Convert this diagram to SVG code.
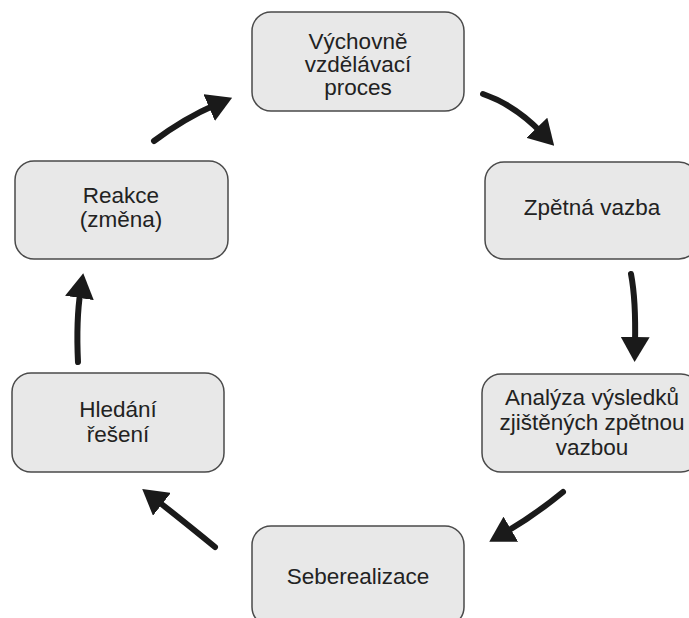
<svg xmlns="http://www.w3.org/2000/svg" width="689" height="618" viewBox="0 0 689 618">
<defs>
<style>
.box{fill:#e8e8e8;stroke:#4a4a4a;stroke-width:1.5}
.lbl{font-family:"Liberation Sans",Arial,sans-serif;font-size:22.5px;fill:#222;text-anchor:middle}
.arr{fill:none;stroke:#1a1a1a;stroke-width:6;stroke-linecap:round;marker-end:url(#head)}
</style>
<marker id="head" viewBox="0 0 25 29" refX="7" refY="14.5" markerWidth="25" markerHeight="29" markerUnits="userSpaceOnUse" orient="auto">
<path d="M0,0 L25,14.5 L0,29 z" fill="#1a1a1a"/>
</marker>
</defs>
<rect width="689" height="618" fill="#ffffff"/>
<g id="n1">
<rect class="box" x="252" y="12" width="212" height="99" rx="19"/>
<text class="lbl" x="358" y="49">Výchovně</text>
<text class="lbl" x="358" y="72">vzdělávací</text>
<text class="lbl" x="358" y="95">proces</text>
</g>
<g id="n2">
<rect class="box" x="485" y="162" width="213" height="97" rx="19"/>
<text class="lbl" x="592" y="215">Zpětná vazba</text>
</g>
<g id="n3">
<rect class="box" x="482" y="374" width="218" height="98" rx="19"/>
<text class="lbl" x="592" y="405">Analýza výsledků</text>
<text class="lbl" x="592" y="430">zjištěných zpětnou</text>
<text class="lbl" x="592" y="455">vazbou</text>
</g>
<g id="n4">
<rect class="box" x="252" y="526" width="212" height="100" rx="19"/>
<text class="lbl" x="358" y="584">Seberealizace</text>
</g>
<g id="n5">
<rect class="box" x="12" y="373" width="212" height="99" rx="19"/>
<text class="lbl" x="118" y="417">Hledání</text>
<text class="lbl" x="118" y="442">řešení</text>
</g>
<g id="n6">
<rect class="box" x="15" y="161" width="213" height="98" rx="19"/>
<text class="lbl" x="121" y="203">Reakce</text>
<text class="lbl" x="121" y="227">(změna)</text>
</g>
<g id="connectors">
<path class="arr" d="M483,94 Q515,105 541.7,132.8"/>
<path class="arr" d="M631,274 Q636,300 635,344"/>
<path class="arr" d="M563,492 Q535,515 504.8,532.7"/>
<path class="arr" d="M215,547 Q182,520 156.4,500"/>
<path class="arr" d="M78,362 Q76,320 80.5,291"/>
<path class="arr" d="M154,141 Q185,118 215.6,104.8"/>
</g>
</svg>
